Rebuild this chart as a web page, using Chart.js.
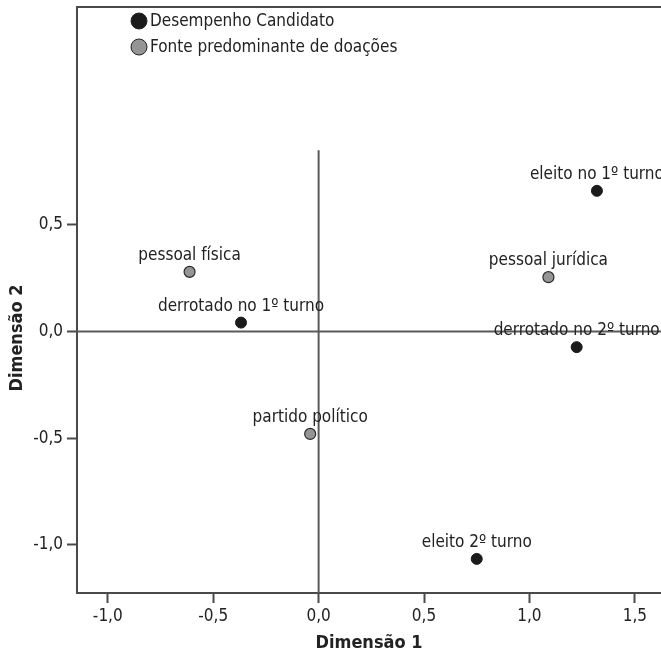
<!DOCTYPE html>
<html>
<head>
<meta charset="utf-8">
<script src="https://cdn.jsdelivr.net/npm/chart.js@4/dist/chart.umd.min.js"></script>
<style>
  html, body { margin: 0; padding: 0; background: #fff; overflow: hidden; }
  canvas { display: block; }
</style>
</head>
<body>
<canvas id="mapChart" width="661" height="654"></canvas>
<script>
// Dados
const seriesNames = ['Desempenho Candidato', 'Fonte predominante de doações'];
const candLabels = ['eleito no 1º turno', 'derrotado no 2º turno', 'derrotado no 1º turno', 'eleito 2º turno'];
const candX = [1.32, 1.224, -0.368, 0.75];
const candY = [0.66, -0.073, 0.042, -1.066];
const fonteLabels = ['pessoal jurídica', 'pessoal física', 'partido político'];
const fonteX = [1.09, -0.612, -0.04];
const fonteY = [0.255, 0.28, -0.48];
const tickValues = [-1.0, -0.5, 0.0, 0.5, 1.0, 1.5];
const yTitle = 'Dimensão 2';

const FONT = '"DejaVu Sans Condensed", "Liberation Sans Narrow", sans-serif';
const LINE = '#4a4a4a';

function toPoints(xs, ys, names) {
    return xs.map((x, i) => ({ x: x, y: ys[i], name: names[i] }));
}

function noPad(scale) {
    scale.paddingLeft = 0;
    scale.paddingRight = 0;
    scale.paddingTop = 0;
    scale.paddingBottom = 0;
}

// Rótulos dos pontos, moldura de cima, linhas de referência e legenda
const extras = {
    id: 'extras',
    beforeDatasetsDraw(chart) {
        const c = chart.ctx;
        const a = chart.chartArea;
        const sx = chart.scales.x, sy = chart.scales.y;
        c.save();
        c.strokeStyle = LINE;
        c.lineWidth = 2;
        // linha superior
        c.beginPath();
        c.moveTo(a.left - 1, a.top);
        c.lineTo(a.right, a.top);
        c.stroke();
        // eixos de referência
        c.strokeStyle = '#5a5a5a';
        c.beginPath();
        c.moveTo(a.left, sy.getPixelForValue(0));
        c.lineTo(a.right, sy.getPixelForValue(0));
        c.moveTo(sx.getPixelForValue(0), sy.getPixelForValue(0.85));
        c.lineTo(sx.getPixelForValue(0), a.bottom);
        c.stroke();
        c.restore();
    },
    afterDatasetsDraw(chart) {
        const c = chart.ctx;
        c.save();
        c.font = '17px ' + FONT;
        c.fillStyle = '#222';
        c.textAlign = 'center';
        c.textBaseline = 'alphabetic';
        chart.data.datasets.forEach((ds, di) => {
            const meta = chart.getDatasetMeta(di);
            meta.data.forEach((el, i) => {
                c.fillText(ds.data[i].name, el.x, el.y - 12);
            });
        });
        // legenda
        c.textAlign = 'left';
        c.textBaseline = 'middle';
        c.font = '17px ' + FONT;
        chart.data.datasets.forEach((ds, di) => {
            const y = 21 + di * 26;
            c.beginPath();
            c.arc(139, y, 8, 0, Math.PI * 2);
            c.fillStyle = ds.backgroundColor;
            c.fill();
            c.lineWidth = 1;
            c.strokeStyle = '#222';
            c.stroke();
            c.fillStyle = '#222';
            c.fillText(ds.label, 150, y + 1);
        });
        // título do eixo y
        c.translate(17, 338);
        c.rotate(-Math.PI / 2);
        c.textAlign = 'center';
        c.font = 'bold 18px ' + FONT;
        c.fillText(yTitle, 0, 0);
        c.restore();
    }
};

const ctx = document.getElementById('mapChart').getContext('2d');
const mapChart = new Chart(ctx, {
    type: 'scatter',
    data: {
        datasets: [{
            label: seriesNames[0],
            data: toPoints(candX, candY, candLabels),
            backgroundColor: '#1b1b1b',
            borderColor: '#1b1b1b',
            borderWidth: 1,
            pointRadius: 5.5
        }, {
            label: seriesNames[1],
            data: toPoints(fonteX, fonteY, fonteLabels),
            backgroundColor: '#959595',
            borderColor: '#2a2a2a',
            borderWidth: 1.2,
            pointRadius: 5.5
        }]
    },
    options: {
        responsive: false,
        animation: false,
        layout: { autoPadding: false, padding: { top: 7, right: 0, left: 0, bottom: 0 } },
        plugins: {
            legend: { display: false },
            tooltip: { enabled: false }
        },
        scales: {
            x: {
                type: 'linear',
                min: -1.146,
                max: 1.624,
                afterBuildTicks(scale) {
                    scale.ticks = tickValues.map(v => ({ value: v }));
                },
                afterFit(scale) { scale.height = 61; noPad(scale); },
                grid: {
                    drawOnChartArea: false,
                    tickLength: 10,
                    tickColor: LINE,
                    tickWidth: 2
                },
                border: { color: LINE, width: 2 },
                ticks: {
                    padding: 3,
                    color: '#222',
                    font: { family: FONT, size: 17 },
                    callback: v => v.toFixed(1).replace('.', ',')
                },
                title: {
                    display: true,
                    text: 'Dimensão 1',
                    color: '#222',
                    padding: 0,
                    font: { family: FONT, size: 18, weight: 'bold' }
                }
            },
            y: {
                type: 'linear',
                min: -1.226,
                max: 1.522,
                afterBuildTicks(scale) {
                    scale.ticks = tickValues.filter(v => v <= 0.5).map(v => ({ value: v }));
                },
                afterFit(scale) { scale.width = 77; noPad(scale); },
                grid: {
                    drawOnChartArea: false,
                    tickLength: 10,
                    tickColor: LINE,
                    tickWidth: 2
                },
                border: { color: LINE, width: 2 },
                ticks: {
                    padding: 4,
                    color: '#222',
                    font: { family: FONT, size: 17 },
                    callback: v => v.toFixed(1).replace('.', ',')
                }
            }
        }
    },
    plugins: [extras]
});
</script>
</body>
</html>
